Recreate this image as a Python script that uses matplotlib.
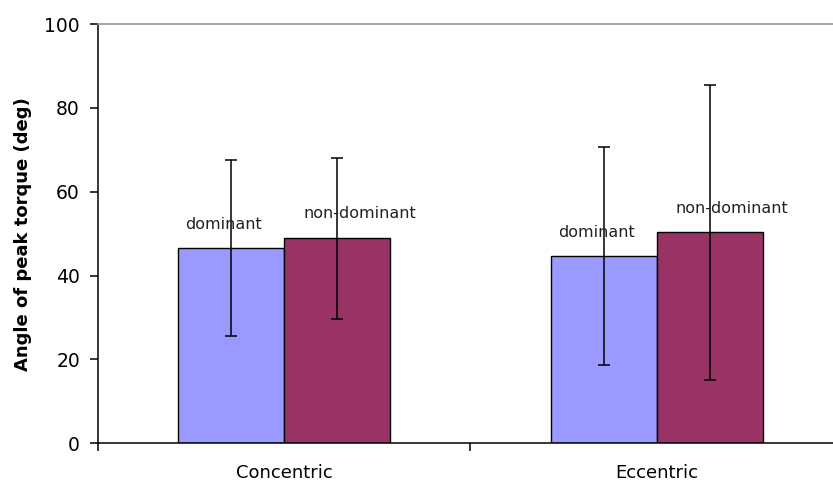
#!/usr/bin/env python3
"""
Angle of peak torque, dominant vs non-dominant, concentric / eccentric
"""
import numpy as np
import matplotlib
matplotlib.use('Agg')
import matplotlib.pyplot as plt

# data
categories = ['Concentric', 'Eccentric']
series = ['dominant', 'non-dominant']
dominant = [46.6, 44.7]
dominant_sd = [21.0, 26.0]
nondominant = [48.9, 50.3]
nondominant_sd = [19.2, 35.2]
colors = ['#9999ff', '#993366']

plt.rcParams['font.family'] = ['DejaVu Sans']

# setup figure
fig = plt.figure(figsize=(8.33, 4.83), dpi=100)
ax = fig.add_axes([0.1176, 0.0822, 0.8944, 0.8681])
x = np.arange(len(categories))
w = 0.285

# plot bars
ekw = dict(elinewidth=1.1, capthick=1.1, ecolor='k')
ax.bar(x - w / 2, dominant, w, yerr=dominant_sd, color=colors[0],
       edgecolor='k', linewidth=1.0, capsize=4, error_kw=ekw)
ax.bar(x + w / 2, nondominant, w, yerr=nondominant_sd, color=colors[1],
       edgecolor='k', linewidth=1.0, capsize=4, error_kw=ekw)

# series labels above bars
for i in range(len(categories)):
    ax.text(x[i] - w / 2 - 0.02, dominant[i] + 5.5, series[0],
            ha='center', va='center', fontsize=11.5, color='#222222')
    ax.text(x[i] + w / 2 + 0.06, nondominant[i] + 5.8, series[1],
            ha='center', va='center', fontsize=11.5, color='#222222')

# axes
ax.set_xlim(-0.5, 1.5)
ax.set_ylim(0, 100)
ax.set_yticks([0, 20, 40, 60, 80, 100])
ax.tick_params(axis='y', direction='out', length=6, width=1.1, pad=7,
               labelsize=13.5, colors='k')
ax.set_xticks([-0.5, 0.5, 1.5])
ax.set_xticklabels([])
ax.tick_params(axis='x', which='major', direction='out', length=6, width=1.1)
ax.set_xticks(x, minor=True)
ax.set_xticklabels(categories, minor=True)
ax.tick_params(axis='x', which='minor', length=0, pad=15, labelsize=13)
ax.set_ylabel('Angle of peak torque (deg)', fontsize=13, fontweight='bold',
              labelpad=9)
ax.spines['right'].set_visible(False)
ax.spines['top'].set_color('#999999')
ax.spines['top'].set_linewidth(1.2)
ax.spines['left'].set_linewidth(1.1)
ax.spines['bottom'].set_linewidth(1.1)

# finish up
fig.savefig('out.png', dpi=100)
